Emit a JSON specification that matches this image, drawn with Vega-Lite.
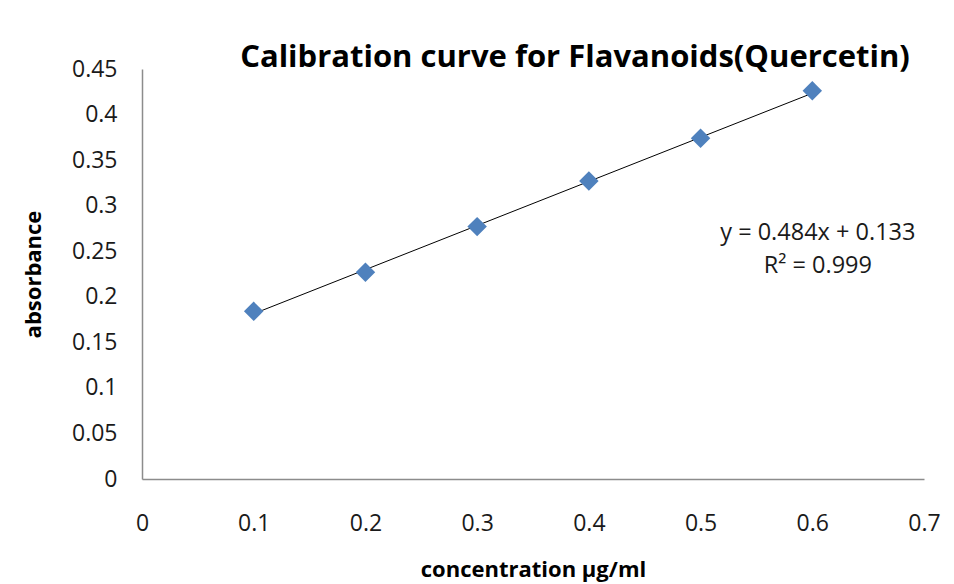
{
  "$schema": "https://vega.github.io/schema/vega-lite/v6.json",
  "width": 782,
  "height": 410,
  "autosize": {"type": "none"},
  "padding": {"left": 142, "top": 69, "right": 30, "bottom": 105},
  "background": "white",
  "config": {
    "view": {"stroke": null},
    "font": "Open Sans"
  },
  "title": {
    "text": "Calibration curve for Flavanoids(Quercetin)",
    "font": "Open Sans",
    "fontSize": 31,
    "fontWeight": "bold",
    "color": "#000000",
    "anchor": "middle",
    "frame": "group",
    "dx": 42,
    "dy": 42,
    "baseline": "alphabetic",
    "offset": 2
  },
  "datasets": {
    "points": [
      {"concentration": 0.1, "absorbance": 0.184},
      {"concentration": 0.2, "absorbance": 0.227},
      {"concentration": 0.3, "absorbance": 0.277},
      {"concentration": 0.4, "absorbance": 0.327},
      {"concentration": 0.5, "absorbance": 0.374},
      {"concentration": 0.6, "absorbance": 0.426}
    ],
    "trend": [
      {"concentration": 0.1, "absorbance": 0.1814},
      {"concentration": 0.6, "absorbance": 0.4234}
    ],
    "labels": [
      {"concentration": 0.605, "absorbance": 0.270, "label": "y = 0.484x + 0.133"},
      {"concentration": 0.605, "absorbance": 0.2338, "label": "R² = 0.999"}
    ]
  },
  "layer": [
    {
      "data": {"name": "trend"},
      "mark": {"type": "line", "color": "#000000", "strokeWidth": 1},
      "encoding": {
        "x": {
          "field": "concentration", "type": "quantitative",
          "scale": {"domain": [0, 0.7], "nice": false, "zero": false},
          "axis": {
            "title": "concentration µg/ml",
            "titleFont": "Open Sans", "titleFontSize": 22, "titleFontWeight": "bold", "titleColor": "#000000",
            "titlePadding": 24,
            "values": [0, 0.1, 0.2, 0.3, 0.4, 0.5, 0.6, 0.7],
            "format": "~g",
            "labelFont": "Open Sans", "labelFontSize": 23, "labelColor": "#1a1a1a",
            "labelPadding": 33,
            "labelFlush": false,
            "labelOverlap": false,
            "ticks": false, "grid": false,
            "domainColor": "#8c8c8c", "domainWidth": 1.5
          }
        },
        "y": {
          "field": "absorbance", "type": "quantitative",
          "scale": {"domain": [0, 0.45], "nice": false, "zero": false},
          "axis": {
            "title": "absorbance",
            "titleFont": "Open Sans", "titleFontSize": 22, "titleFontWeight": "bold", "titleColor": "#000000",
            "titlePadding": 26,
            "values": [0, 0.05, 0.1, 0.15, 0.2, 0.25, 0.3, 0.35, 0.4, 0.45],
            "format": "~g",
            "labelFont": "Open Sans", "labelFontSize": 23, "labelColor": "#1a1a1a",
            "labelPadding": 25,
            "labelFlush": false,
            "labelOverlap": false,
            "ticks": false, "grid": false,
            "domainColor": "#8c8c8c", "domainWidth": 1.5
          }
        }
      }
    },
    {
      "data": {"name": "points"},
      "mark": {"type": "point", "shape": "diamond", "filled": true, "size": 380, "color": "#4F81BD", "opacity": 1},
      "encoding": {
        "x": {"field": "concentration", "type": "quantitative"},
        "y": {"field": "absorbance", "type": "quantitative"}
      }
    },
    {
      "data": {"name": "labels"},
      "mark": {"type": "text", "font": "Open Sans", "fontSize": 23.5, "color": "#1a1a1a", "align": "center", "baseline": "middle"},
      "encoding": {
        "x": {"field": "concentration", "type": "quantitative"},
        "y": {"field": "absorbance", "type": "quantitative"},
        "text": {"field": "label"}
      }
    }
  ]
}
